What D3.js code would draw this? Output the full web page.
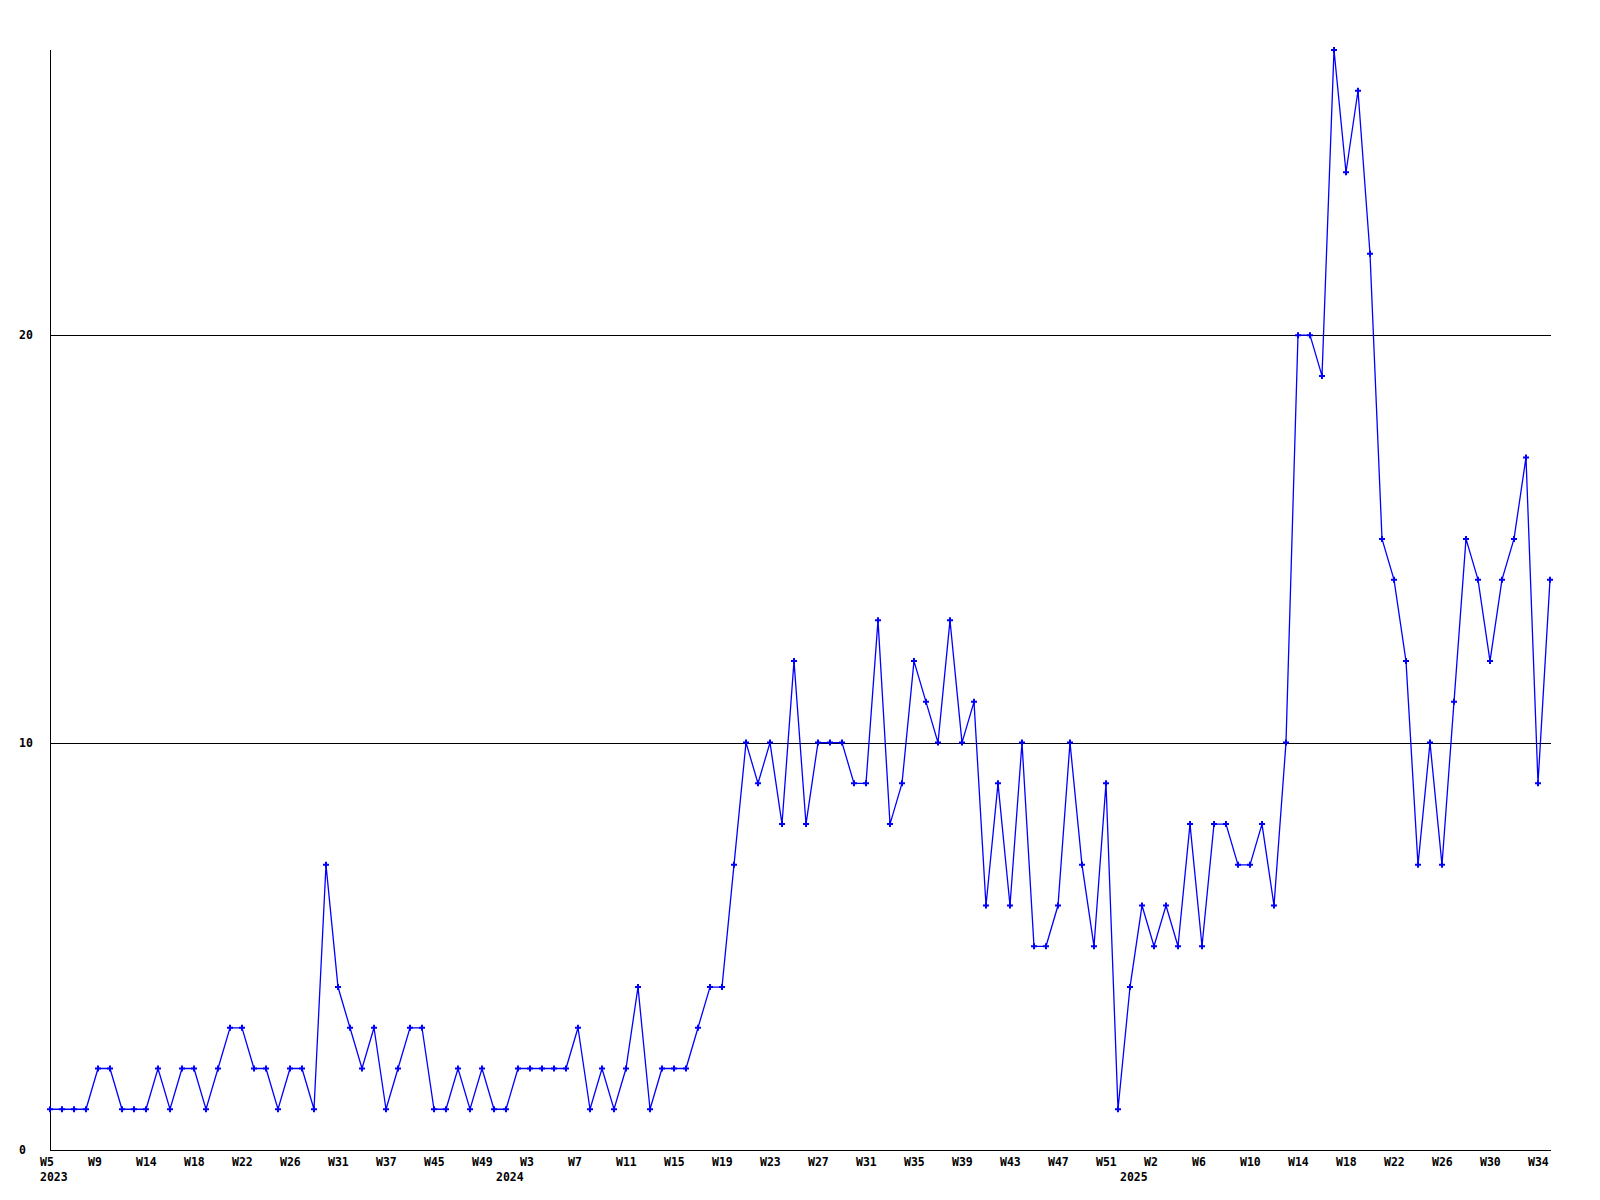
<!DOCTYPE html>
<html>
<head>
<meta charset="utf-8">
<script src="https://cdn.jsdelivr.net/npm/d3@7"></script>
<style>
  html, body { margin: 0; padding: 0; background: #ffffff; }
  svg { display: block; }
  text { font-family: "DejaVu Sans Mono", "Liberation Mono", monospace; font-weight: bold; font-size: 11.5px; fill: #000; }
</style>
</head>
<body>
<svg id="chart" width="1600" height="1200"></svg>
<script>
// ---- data ----
const periods = [
  "2023-W5","2023-W6","2023-W7","2023-W8","2023-W9","2023-W10","2023-W11","2023-W13",
  "2023-W14","2023-W15","2023-W16","2023-W17","2023-W18","2023-W19","2023-W20","2023-W21",
  "2023-W22","2023-W23","2023-W24","2023-W25","2023-W26","2023-W27","2023-W28","2023-W30",
  "2023-W31","2023-W32","2023-W34","2023-W35","2023-W37","2023-W39","2023-W41","2023-W43",
  "2023-W45","2023-W46","2023-W47","2023-W48","2023-W49","2023-W51","2024-W1","2024-W2",
  "2024-W3","2024-W4","2024-W5","2024-W6","2024-W7","2024-W8","2024-W9","2024-W10",
  "2024-W11","2024-W12","2024-W13","2024-W14","2024-W15","2024-W16","2024-W17","2024-W18",
  "2024-W19","2024-W20","2024-W21","2024-W22","2024-W23","2024-W24","2024-W25","2024-W26",
  "2024-W27","2024-W28","2024-W29","2024-W30","2024-W31","2024-W32","2024-W33","2024-W34",
  "2024-W35","2024-W36","2024-W37","2024-W38","2024-W39","2024-W40","2024-W41","2024-W42",
  "2024-W43","2024-W44","2024-W45","2024-W46","2024-W47","2024-W48","2024-W49","2024-W50",
  "2024-W51","2024-W52","2025-W1","2025-W1","2025-W2","2025-W3","2025-W4","2025-W5",
  "2025-W6","2025-W7","2025-W8","2025-W9","2025-W10","2025-W11","2025-W12","2025-W13",
  "2025-W14","2025-W15","2025-W16","2025-W17","2025-W18","2025-W19","2025-W20","2025-W21",
  "2025-W22","2025-W23","2025-W24","2025-W25","2025-W26","2025-W27","2025-W28","2025-W29",
  "2025-W30","2025-W31","2025-W32","2025-W33","2025-W34","2025-W35"
];
const values = [
  1,1,1,1,2,2,1,1,
  1,2,1,2,2,1,2,3,
  3,2,2,1,2,2,1,7,
  4,3,2,3,1,2,3,3,
  1,1,2,1,2,1,1,2,
  2,2,2,2,3,1,2,1,
  2,4,1,2,2,2,3,4,
  4,7,10,9,10,8,12,8,
  10,10,10,9,9,13,8,9,
  12,11,10,13,10,11,6,9,
  6,10,5,5,6,10,7,5,
  9,1,4,6,5,6,5,8,
  5,8,8,7,7,8,6,10,
  20,20,19,27,24,26,22,15,
  14,12,7,10,7,11,15,14,
  12,14,15,17,9,14
];
const yTicks = [0, 10, 20];
const gridValues = [10, 20];
const tickEvery = 4;

(function () {
  // ---- layout ----
  const mLeft = 50, mRight = 1551, mTop = 50, mBottom = 1150;
  const yMax = 27;

  const svg = d3.select("#chart");
  const idx = d3.range(values.length);
  const x = d3.scalePoint().domain(idx).range([mLeft, mRight - 1]);
  const y = d3.scaleLinear().domain([0, yMax]).range([mBottom, mTop]);

  // grid lines
  svg.append("g").selectAll("line").data(gridValues).join("line")
    .attr("x1", mLeft).attr("x2", mRight)
    .attr("y1", d => Math.round(y(d)) + 0.5).attr("y2", d => Math.round(y(d)) + 0.5)
    .attr("stroke", "#000").attr("stroke-width", 1).attr("shape-rendering", "crispEdges");

  // axis lines
  svg.append("line").attr("x1", mLeft + 0.5).attr("x2", mLeft + 0.5).attr("y1", mTop).attr("y2", mBottom + 1)
    .attr("stroke", "#000").attr("shape-rendering", "crispEdges");
  svg.append("line").attr("x1", mLeft).attr("x2", mRight).attr("y1", mBottom + 0.5).attr("y2", mBottom + 0.5)
    .attr("stroke", "#000").attr("shape-rendering", "crispEdges");

  // y labels
  svg.append("g").selectAll("text").data(yTicks).join("text")
    .attr("x", 19).attr("y", d => y(d) + 4)
    .text(d => d);

  // x labels (week)
  const weekOf = p => p.split("-")[1];
  const yearOf = p => p.split("-")[0];
  svg.append("g").selectAll("text").data(idx.filter(i => i % tickEvery === 0)).join("text")
    .attr("x", i => x(i) - 10).attr("y", mBottom + 16)
    .text(i => weekOf(periods[i]));

  // year labels at first point of each year
  const yearStarts = idx.filter(i => i === 0 || yearOf(periods[i]) !== yearOf(periods[i - 1]));
  svg.append("g").selectAll("text").data(yearStarts).join("text")
    .attr("x", i => x(i) - 10).attr("y", mBottom + 31)
    .text(i => yearOf(periods[i]));

  // line
  const line = d3.line().x((d, i) => x(i)).y(d => y(d));
  svg.append("path").datum(values)
    .attr("d", line)
    .attr("fill", "none").attr("stroke", "#0000ff").attr("stroke-width", 1.3);

  // markers
  svg.append("g").selectAll("path").data(values).join("path")
    .attr("transform", (d, i) => `translate(${x(i)},${y(d)})`)
    .attr("d", d3.symbol().type(d3.symbolCross).size(20))
    .attr("fill", "#0000ff");
})();
</script>
</body>
</html>
